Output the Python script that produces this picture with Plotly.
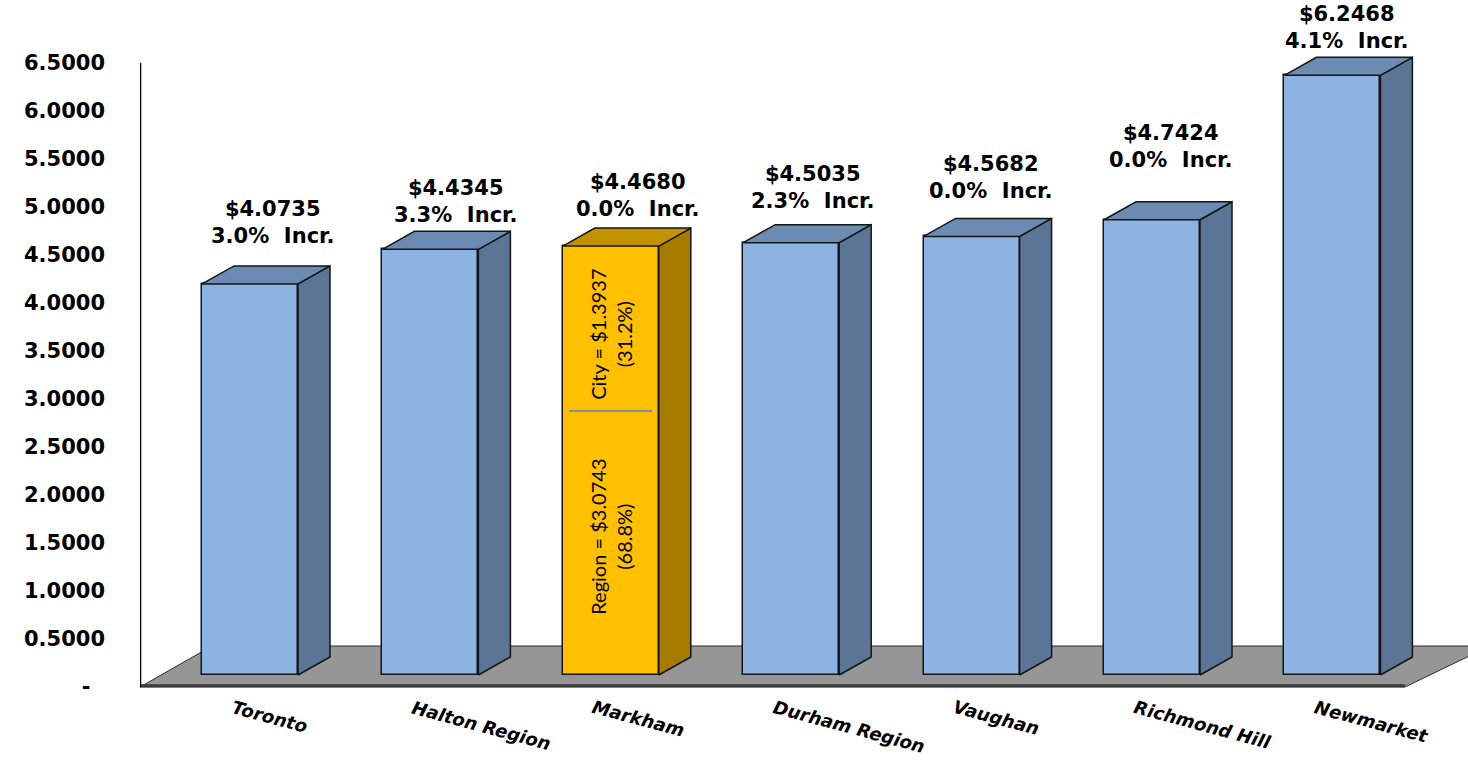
import plotly.graph_objects as go

# ---------------- data ----------------
categories = ["Toronto", "Halton Region", "Markham", "Durham Region",
              "Vaughan", "Richmond Hill", "Newmarket"]
rates = [4.0735, 4.4345, 4.4680, 4.5035, 4.5682, 4.7424, 6.2468]
increases = ["3.0%", "3.3%", "0.0%", "2.3%", "0.0%", "0.0%", "4.1%"]
highlight = "Markham"
markham_city = 1.3937
markham_region = 3.0743
markham_city_pct = "31.2%"
markham_region_pct = "68.8%"
y_ticks = [0, 0.5, 1.0, 1.5, 2.0, 2.5, 3.0, 3.5, 4.0, 4.5, 5.0, 5.5, 6.0, 6.5]

# ---------------- layout constants ----------------
PX_X = 180.4          # pixels per category unit
PX_Y = 96.0           # pixels per value unit
BAR_W = 96 / PX_X
BASE = 12 / PX_Y      # bars sit back on the floor
DX = 32 / PX_X        # 3D depth offset
DY = 18 / PX_Y
AXIS_X = (140 - 250) / PX_X
label_gap_px = [48, 35, 38, 42, 46, 60, 35]
label_dx_px = [22, 25, 27, 21, 19, 18, 14]

BLUE = dict(front="#8DB3E2", top="#6C8BB3", side="#5B7597")
GOLD = dict(front="#FFC000", top="#C39200", side="#A67C00")
EDGE = "#151515"

fig = go.Figure()

# side and top faces
for i, (c, v) in enumerate(zip(categories, rates)):
    pal = GOLD if c == highlight else BLUE
    xl, xr = i - BAR_W / 2, i + BAR_W / 2
    top = BASE + v
    fig.add_trace(go.Scatter(
        x=[xr, xr + DX, xr + DX, xr, xr], y=[BASE, BASE + DY, top + DY, top, BASE],
        mode="lines", fill="toself", fillcolor=pal["side"],
        line=dict(color=EDGE, width=1.5), hoverinfo="skip", showlegend=False))
    fig.add_trace(go.Scatter(
        x=[xl, xr, xr + DX, xl + DX, xl], y=[top, top, top + DY, top + DY, top],
        mode="lines", fill="toself", fillcolor=pal["top"],
        line=dict(color=EDGE, width=1.5), hoverinfo="skip", showlegend=False))

# front faces
fig.add_trace(go.Bar(
    x=list(range(len(categories))), y=rates, base=BASE, width=BAR_W,
    marker=dict(color=[GOLD["front"] if c == highlight else BLUE["front"] for c in categories],
                line=dict(color=EDGE, width=1.5)),
    hoverinfo="skip", showlegend=False))

annotations = []
vfont = dict(family="DejaVu Sans", size=21, color="black", weight="bold")
for i, (v, inc) in enumerate(zip(rates, increases)):
    annotations.append(dict(
        x=i, y=BASE + v, xref="x", yref="y", showarrow=False,
        text=f"${v:.4f}<br>{inc}\u00a0 Incr.", align="center",
        xanchor="center", yanchor="middle",
        xshift=label_dx_px[i], yshift=label_gap_px[i] + 13, font=vfont))

cfont = dict(family="DejaVu Sans", size=18, color="black", weight="bold", style="italic")
for i, c in enumerate(categories):
    annotations.append(dict(
        x=i - BAR_W / 2, y=0, xref="x", yref="y", showarrow=False,
        text=c, textangle=15, xanchor="left", yanchor="top",
        xshift=25, yshift=-7, font=cfont))

# Markham split labels
mi = categories.index(highlight)
mfont = dict(family="Liberation Sans Narrow, Lato, sans-serif", size=20, color="black")
annotations.append(dict(
    x=mi, y=3.677, xref="x", yref="y", showarrow=False, textangle=-90,
    text=f"City = ${markham_city:.4f}<br>({markham_city_pct})", align="center",
    font=mfont))
annotations.append(dict(
    x=mi, y=1.5625, xref="x", yref="y", showarrow=False, textangle=-90,
    text=f"Region = ${markham_region:.4f}<br>({markham_region_pct})", align="center",
    font=mfont))

# floor (drawn beneath the bars)
fl = [(AXIS_X, 0), ((1405 - 250) / PX_X, 0), ((1490 - 250) / PX_X, 41 / PX_Y),
      ((212 - 250) / PX_X, 41 / PX_Y)]
floor_path = "M " + " L ".join(f"{x},{y}" for x, y in fl) + " Z"

shapes = [
    dict(type="path", xref="x", yref="y", path=floor_path, fillcolor="#969696",
         line=dict(color="#2a2a2a", width=1), layer="below"),
    dict(type="line", xref="x", yref="y", x0=fl[0][0], x1=fl[1][0], y0=0.012, y1=0.012,
         line=dict(color="#3c3c3c", width=3), layer="below"),
    dict(type="line", xref="x", yref="y", x0=AXIS_X, x1=AXIS_X, y0=0, y1=y_ticks[-1],
         line=dict(color="black", width=2.5)),
    dict(type="line", xref="x", yref="y", x0=mi - 0.23, x1=mi + 0.23, y0=2.875, y1=2.875,
         line=dict(color="#7A8FA6", width=2), layer="above"),
]

tick_text = ["-\u00a0\u00a0" if t == 0 else f"{t:.4f}" for t in y_ticks]

fig.update_layout(
    width=1468, height=760,
    margin=dict(l=140, r=0, t=0, b=0),
    paper_bgcolor="white", plot_bgcolor="white",
    xaxis=dict(range=[AXIS_X, (1468 - 250) / PX_X], visible=False, fixedrange=True),
    yaxis=dict(range=[(687 - 760) / PX_Y, 687 / PX_Y],
               tickvals=y_ticks, ticktext=tick_text, ticks="",
               showgrid=False, zeroline=False, showline=False,
               ticklabelstandoff=34,
               tickfont=dict(family="DejaVu Sans", size=21, color="black", weight="bold"),
               fixedrange=True),
    annotations=annotations, shapes=shapes, bargap=0,
)

fig.write_html("out.html")
